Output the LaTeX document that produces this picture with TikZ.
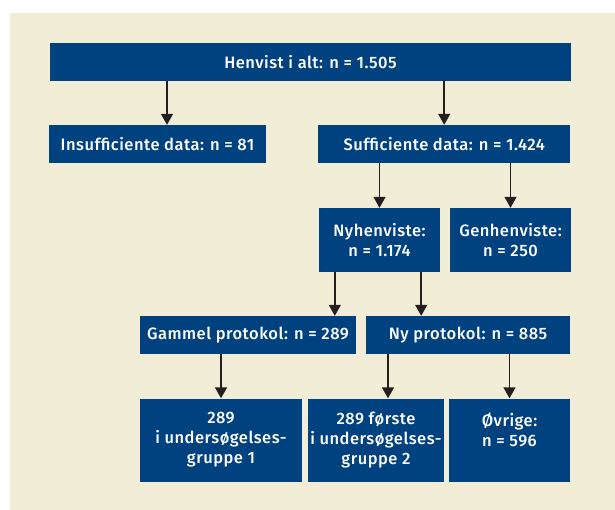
\documentclass[tikz,border=0pt]{standalone}
\usepackage{fontspec}
\setmainfont{Fira Sans}[UprightFont=* Medium, LetterSpace=3]
\usetikzlibrary{arrows.meta}
\definecolor{boxblue}{RGB}{0,65,128}
\definecolor{cream}{RGB}{242,237,214}
\definecolor{arrowgray}{RGB}{35,31,32}

\begin{document}
\begin{tikzpicture}
  [
    x=1bp, y=-1bp,
    font=\fontsize{16.5bp}{20bp}\selectfont,
    main box/.style={rectangle, fill=boxblue, text=white, align=center, inner sep=0pt, minimum height=38bp},
    tall box/.style={main box, minimum height=64bp},
    group box/.style={main box, minimum height=83bp}
    ]
  \tikzstyle{arrow} = [line width=1.5bp, draw=arrowgray, -{Triangle[length=11bp,width=12bp]}]

  \useasboundingbox (0,0) rectangle (615,510);
  \fill[cream] (10,13) rectangle (615,510);

  \node[main box, minimum width=521bp] (henvist) at (310.5,62) {Henvist i alt: n = 1.505};
  \node[main box, minimum width=217bp] (insuff) at (157.5,144) {Insufficiente data: n = 81};
  \node[main box, minimum width=252bp] (suff) at (444.2,144) {Sufficiente data: n = 1.424};
  \node[tall box, minimum width=121bp] (nyhen) at (379.5,240) {Nyhenviste:\\n = 1.174};
  \node[tall box, minimum width=121bp] (genhen) at (510.5,240) {Genhenviste:\\n = 250};
  \node[main box, minimum width=216bp] (gammel) at (248,335) {Gammel protokol: n = 289};
  \node[main box, minimum width=204bp] (nyprot) at (468,335) {Ny protokol: n = 885};
  \node[group box, minimum width=162bp] (grp1) at (221,440) {289\\i undersøgelses-\\gruppe 1};
  \node[group box, minimum width=136bp] (grp2) at (376,440) {289 første\\i undersøgelses-\\gruppe 2};
  \node[group box, minimum width=121bp] (ovrige) at (509.5,440) {Øvrige:\\n = 596\\\mbox{}};

  \draw[arrow] ([xshift=9.5bp]insuff.north |- henvist.south) -- ([xshift=9.5bp]insuff.north);
  \draw[arrow] (henvist.south -| suff.north) -- (suff.north);
  \draw[arrow] (suff.south -| nyhen.north) -- (nyhen.north);
  \draw[arrow] (suff.south -| genhen.north) -- (genhen.north);
  \draw[arrow] ([xshift=16bp]nyhen.south west) -- ([xshift=16bp]nyhen.south west |- gammel.north);
  \draw[arrow] ([xshift=-19bp]nyhen.south east) -- ([xshift=-19bp]nyhen.south east |- nyprot.north);
  \draw[arrow] (gammel.south -| grp1.north) -- (grp1.north);
  \draw[arrow] ([xshift=12bp]grp2.north |- nyprot.south) -- ([xshift=12bp]grp2.north);
  \draw[arrow] (nyprot.south -| ovrige.north) -- (ovrige.north);

\end{tikzpicture}
\end{document}
